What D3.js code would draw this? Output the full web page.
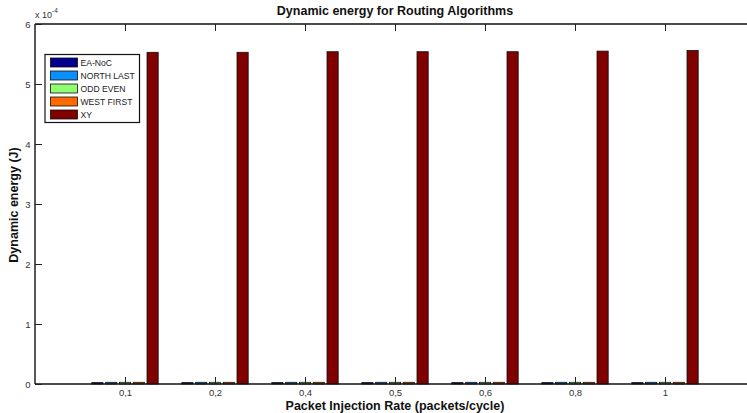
<!DOCTYPE html>
<html><head><meta charset="utf-8">
<script src="https://cdn.jsdelivr.net/npm/d3@7"></script>
<style>body{margin:0;background:#fff}svg{display:block;font-family:"Liberation Sans",Arial,sans-serif}</style>
</head><body><svg id="c" width="747" height="413"></svg>
<script>
const categories = ["0,1","0,2","0,4","0,5","0,6","0,8","1"];
const seriesNames = ["EA-NoC","NORTH LAST","ODD EVEN","WEST FIRST","XY"];
const eaNoc      = [0.015,0.015,0.015,0.015,0.015,0.015,0.015];
const northLast  = [0.02,0.02,0.02,0.02,0.02,0.02,0.02];
const oddEven    = [0.02,0.02,0.02,0.02,0.02,0.02,0.02];
const westFirst  = [0.02,0.02,0.02,0.02,0.02,0.02,0.02];
const xy         = [5.52,5.52,5.53,5.53,5.53,5.54,5.55];
const yTicks = [0,1,2,3,4,5,6];
const colors = ["#00008f","#0a8fff","#8fff70","#ff6a00","#800000"];
const series = [eaNoc,northLast,oddEven,westFirst,xy];

const svg = d3.select("#c");
const L=35, R=755, T=24, B=384;
const x = d3.scaleLinear().domain([0,8]).range([L,R]);
const y = d3.scaleLinear().domain([0,6]).range([B,T]);
const slot = 13.8, bw = 11.2;

// bars
series.forEach((s,si)=>{
  svg.append("g").selectAll("rect").data(s).join("rect")
    .attr("x",(d,i)=>x(i+1)+(si-2)*slot-bw/2)
    .attr("y",d=>y(d)-0.5)
    .attr("width",bw)
    .attr("height",d=>y(0)-y(d)+0.5)
    .attr("fill",colors[si]).attr("stroke","#111").attr("stroke-width",0.8);
});

// box
const g = svg.append("g").attr("stroke","#111").attr("stroke-width",1.4).attr("fill","none");
g.append("line").attr("x1",L).attr("x2",R).attr("y1",T).attr("y2",T);
g.append("line").attr("x1",L).attr("x2",R).attr("y1",B).attr("y2",B);
g.append("line").attr("x1",L).attr("x2",L).attr("y1",T).attr("y2",B);

// y axis
const yAx = svg.append("g").attr("transform",`translate(${L},0)`)
  .call(d3.axisLeft(y).tickValues(yTicks).tickSize(-7).tickFormat(d3.format("d")));
yAx.select(".domain").remove();
yAx.selectAll("line").attr("stroke","#222");
yAx.selectAll("text").attr("font-size",9.5).attr("fill","#333").attr("dy","0.35em").attr("x",-4.5);

// x axis bottom
const xAx = svg.append("g").attr("transform",`translate(0,${B})`)
  .call(d3.axisBottom(x).tickValues(d3.range(1,8)).tickSize(-7).tickPadding(5).tickFormat(d=>categories[d-1]));
xAx.select(".domain").remove();
xAx.selectAll("line").attr("stroke","#222");
xAx.selectAll("text").attr("font-size",9.5).attr("fill","#333");
// x axis top ticks
const xTop = svg.append("g").attr("transform",`translate(0,${T})`)
  .call(d3.axisTop(x).tickValues(d3.range(1,8)).tickSize(-7).tickFormat(""));
xTop.select(".domain").remove();
xTop.selectAll("line").attr("stroke","#222");

// exponent
const ex = svg.append("text").attr("x",35).attr("y",18).attr("font-size",9).attr("fill","#333");
ex.append("tspan").text("x 10");
ex.append("tspan").attr("dy",-5).attr("font-size",6.5).text("-4");

// title & labels
svg.append("text").attr("x",395).attr("y",15).attr("text-anchor","middle")
  .attr("font-size",12.5).attr("font-weight","bold").attr("fill","#111").text("Dynamic energy for Routing Algorithms");
svg.append("text").attr("x",395).attr("y",410).attr("text-anchor","middle")
  .attr("font-size",12.5).attr("font-weight","bold").attr("fill","#111").text("Packet Injection Rate (packets/cycle)");
svg.append("text").attr("transform","translate(18,205) rotate(-90)").attr("text-anchor","middle")
  .attr("font-size",12.5).attr("font-weight","bold").attr("fill","#111").text("Dynamic energy (J)");

// legend
const lg = svg.append("g");
lg.append("rect").attr("x",45).attr("y",54.5).attr("width",94.5).attr("height",68)
  .attr("fill","#fff").attr("stroke","#111").attr("stroke-width",1.2);
seriesNames.forEach((n,i)=>{
  const cy = 62.5 + i*13;
  lg.append("rect").attr("x",50.5).attr("y",cy-4.5).attr("width",27).attr("height",9)
    .attr("fill",colors[i]).attr("stroke","#111").attr("stroke-width",0.8);
  lg.append("text").attr("x",80.5).attr("y",cy).attr("dy","0.35em").attr("font-size",8.6).attr("fill","#222").text(n);
});
</script></body></html>
